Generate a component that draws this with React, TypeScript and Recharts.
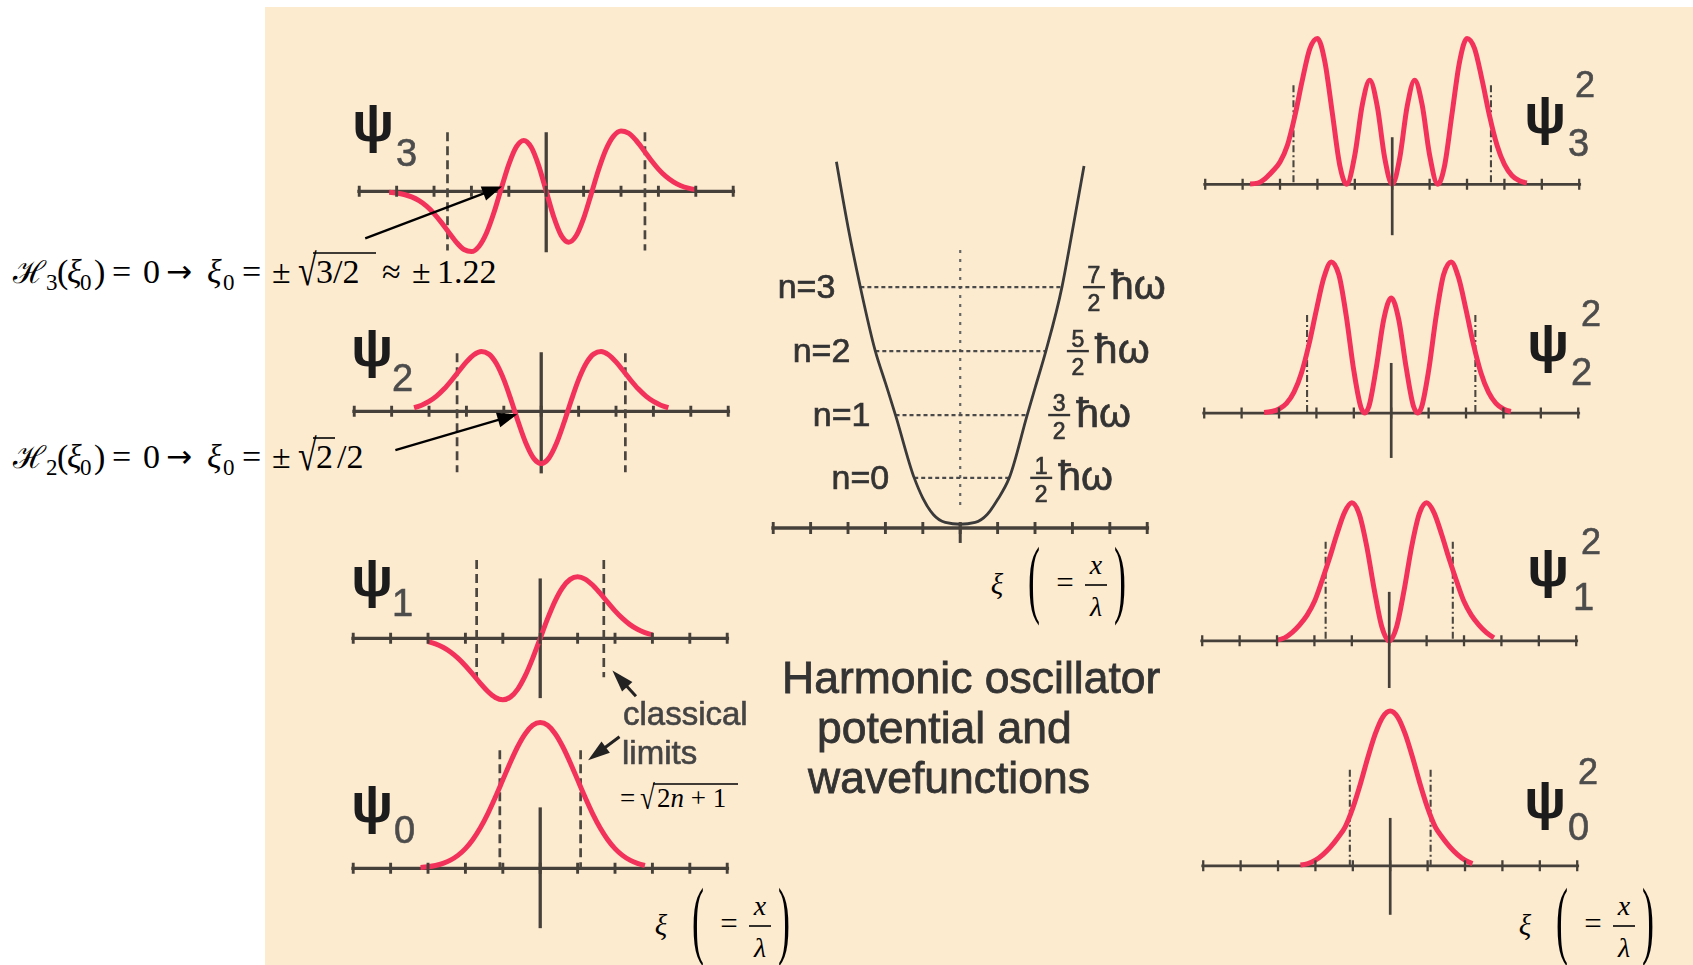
import React from 'react';
import { ComposedChart, Line, Scatter, XAxis, YAxis, ReferenceLine } from 'recharts';

type Pt = [number, number];

// ---------------- data (ξ, value) ----------------
const XI_TICKS = [-5, -4, -3, -2, -1, 0, 1, 2, 3, 4, 5];
const CLASSICAL_LIMITS = [1.08, 1.7, 2.25, 2.64]; // √(2n+1), n = 0..3

const PSI0: Pt[] = [
  [-3.2, 0.023], [-3.0, 0.043], [-2.8, 0.077], [-2.6, 0.133], [-2.4, 0.219], [-2.2, 0.347], [-2.0, 0.528],
  [-1.8, 0.772], [-1.6, 1.084], [-1.4, 1.464], [-1.2, 1.899], [-1.0, 2.365], [-0.8, 2.832], [-0.6, 3.258],
  [-0.4, 3.6], [-0.2, 3.823], [0, 3.9], [0.2, 3.823], [0.4, 3.6], [0.6, 3.258], [0.8, 2.832], [1.0, 2.365],
  [1.2, 1.899], [1.4, 1.464], [1.6, 1.084], [1.8, 0.772], [2.0, 0.528], [2.2, 0.347], [2.4, 0.219],
  [2.6, 0.133], [2.8, 0.077],
];
const PSI1: Pt[] = [
  [-3.0, -0.09], [-2.8, -0.15], [-2.6, -0.24], [-2.4, -0.365], [-2.2, -0.53], [-2.0, -0.734], [-1.8, -0.965],
  [-1.6, -1.205], [-1.4, -1.424], [-1.2, -1.583], [-1.0, -1.644], [-0.8, -1.574], [-0.6, -1.358], [-0.4, -1.001],
  [-0.2, -0.531], [0, 0], [0.2, 0.531], [0.4, 1.001], [0.6, 1.358], [0.8, 1.574], [1.0, 1.644], [1.2, 1.583],
  [1.4, 1.424], [1.6, 1.205], [1.8, 0.965], [2.0, 0.734], [2.2, 0.53], [2.4, 0.365], [2.6, 0.24], [2.8, 0.15],
  [3.0, 0.09],
];
const PSI2: Pt[] = [
  [-3.4, 0.095], [-3.2, 0.163], [-3.0, 0.264], [-2.8, 0.406], [-2.6, 0.594], [-2.4, 0.824], [-2.2, 1.077],
  [-2.0, 1.322], [-1.8, 1.514], [-1.6, 1.599], [-1.4, 1.53], [-1.2, 1.278], [-1.0, 0.847], [-0.8, 0.284],
  [-0.6, -0.327], [-0.4, -0.876], [-0.2, -1.259], [0, -1.396], [0.2, -1.259], [0.4, -0.876], [0.6, -0.327],
  [0.8, 0.284], [1.0, 0.847], [1.2, 1.278], [1.4, 1.53], [1.6, 1.599], [1.8, 1.514], [2.0, 1.322], [2.2, 1.077],
  [2.4, 0.824], [2.6, 0.594], [2.8, 0.406], [3.0, 0.264], [3.2, 0.163], [3.4, 0.095],
];
const PSI3: Pt[] = [
  [-4.2, -0.024], [-4.0, -0.046], [-3.8, -0.086], [-3.6, -0.15], [-3.4, -0.252], [-3.2, -0.398], [-3.0, -0.595],
  [-2.8, -0.837], [-2.6, -1.107], [-2.4, -1.365], [-2.2, -1.555], [-2.0, -1.611], [-1.8, -1.475], [-1.6, -1.122],
  [-1.4, -0.575], [-1.2, 0.083], [-1.0, 0.722], [-0.8, 1.189], [-0.6, 1.36], [-0.4, 1.178], [-0.2, 0.681],
  [0, 0], [0.2, -0.681], [0.4, -1.178], [0.6, -1.36], [0.8, -1.189], [1.0, -0.722], [1.2, -0.083], [1.4, 0.575],
  [1.6, 1.122], [1.8, 1.475], [2.0, 1.611], [2.2, 1.555], [2.4, 1.365], [2.6, 1.107], [2.8, 0.837], [3.0, 0.595],
  [3.2, 0.398], [3.4, 0.252], [3.6, 0.15], [3.8, 0.086], [4.0, 0.046],
];

const PSI0_SQ: Pt[] = [
  [-2.4, 0.02], [-2.2, 0.06], [-2.0, 0.15], [-1.8, 0.3], [-1.6, 0.5], [-1.4, 0.75], [-1.2, 1.05], [-1.0, 1.55],
  [-0.8, 2.183], [-0.6, 2.888], [-0.4, 3.528], [-0.2, 3.978], [0, 4.14], [0.2, 3.978], [0.4, 3.528],
  [0.6, 2.888], [0.8, 2.183], [1.0, 1.55], [1.2, 1.05], [1.4, 0.75], [1.6, 0.5], [1.8, 0.3], [2.0, 0.15],
  [2.2, 0.06],
];
const PSI1_SQ: Pt[] = [
  [-3.0, 0.02], [-2.8, 0.08], [-2.6, 0.22], [-2.4, 0.42], [-2.2, 0.68], [-2.0, 1.05], [-1.8, 1.6], [-1.6, 2.2],
  [-1.4, 2.85], [-1.2, 3.423], [-1.0, 3.69], [-0.8, 3.384], [-0.6, 2.52], [-0.4, 1.367], [-0.2, 0.385], [0, 0],
  [0.2, 0.385], [0.4, 1.367], [0.6, 2.52], [0.8, 3.384], [1.0, 3.69], [1.2, 3.423], [1.4, 2.85], [1.6, 2.2],
  [1.8, 1.6], [2.0, 1.05], [2.2, 0.68], [2.4, 0.42], [2.6, 0.22], [2.8, 0.08],
];
const PSI2_SQ: Pt[] = [
  [-3.4, 0.014], [-3.2, 0.042], [-3.0, 0.11], [-2.8, 0.26], [-2.6, 0.558], [-2.4, 1.073], [-2.2, 1.834],
  [-2.0, 2.764], [-1.8, 3.622], [-1.6, 4.041], [-1.4, 3.699], [-1.2, 2.58], [-1.0, 1.133], [-0.8, 0.127],
  [-0.7, 0], [-0.6, 0.168], [-0.4, 1.214], [-0.2, 2.505], [0, 3.08], [0.2, 2.505], [0.4, 1.214], [0.6, 0.168],
  [0.7, 0], [0.8, 0.127], [1.0, 1.133], [1.2, 2.58], [1.4, 3.699], [1.6, 4.041], [1.8, 3.622], [2.0, 2.764],
  [2.2, 1.834], [2.4, 1.073], [2.6, 0.558], [2.8, 0.26], [3.0, 0.11], [3.2, 0.042],
];
const PSI3_SQ: Pt[] = [
  [-3.8, 0.011], [-3.6, 0.034], [-3.4, 0.15], [-3.2, 0.35], [-3.0, 0.6], [-2.8, 1.053], [-2.6, 1.842],
  [-2.4, 2.803], [-2.2, 3.636], [-2.0, 3.902], [-1.8, 3.273], [-1.6, 1.894], [-1.4, 0.498], [-1.22, 0],
  [-1.0, 0.783], [-0.8, 2.126], [-0.6, 2.781], [-0.4, 2.086], [-0.2, 0.698], [0, 0], [0.2, 0.698], [0.4, 2.086],
  [0.6, 2.781], [0.8, 2.126], [1.0, 0.783], [1.22, 0], [1.4, 0.498], [1.6, 1.894], [1.8, 3.273], [2.0, 3.902],
  [2.2, 3.636], [2.4, 2.803], [2.6, 1.842], [2.8, 1.053], [3.0, 0.532], [3.2, 0.238], [3.4, 0.095], [3.6, 0.034],
];

const POTENTIAL: Pt[] = [
  [-3.31, 9.79], [-3.0, 8.05], [-2.67, 6.44], [-2.27, 4.73], [-2.0, 3.88], [-1.73, 3.02], [-1.23, 1.34],
  [-1.0, 0.8], [-0.72, 0.36], [-0.4, 0.15], [0, 0.1], [0.4, 0.15], [0.72, 0.36], [1.0, 0.76], [1.31, 1.34],
  [1.79, 3.02], [2.0, 3.74], [2.29, 4.73], [2.72, 6.44], [3.0, 7.95], [3.31, 9.68],
];
const LEVEL_ENERGY = [1.34, 3.02, 4.73, 6.44];
const LEVEL_LEFT = [-1.23, -1.73, -2.27, -2.67];
const LEVEL_RIGHT = [1.31, 1.79, 2.29, 2.72];
const LEVEL_NAMES = ['n=0', 'n=1', 'n=2', 'n=3'];
const LEVEL_NUMERATORS = ['1', '3', '5', '7'];

// annotation arrows, in each panel's (ξ, value) coordinates: [tail, head]
const ARROW_H3: Pt[] = [[-4.84, -1.26], [-1.18, 0.13]];
const ARROW_H2: Pt[] = [[-3.9, -1.04], [-0.64, -0.08]];
const ARROW_LIMIT1: Pt[] = [[2.56, -1.55], [1.93, -0.86]];
const ARROW_LIMIT0: Pt[] = [[2.12, 3.52], [1.28, 2.89]];

// ---------------- style / layout ----------------
const W = 1693;
const H = 965;
const S = 37.4;
const X_MIN = -5.3;
const X_MAX = 5.3;
const POT_X_MAX = 7.2;
const BG = '#FDEBD0';
const RED = '#F3325B';
const AXIS = '#45413a';
const DASH = '#4b4740';
const GRAYTXT = '#333333';
const SANS = "'Liberation Sans', Arial, Helvetica, sans-serif";
const SERIF = "'Liberation Serif', 'Times New Roman', 'DejaVu Serif', serif";
const M0 = { top: 0, right: 0, bottom: 0, left: 0 };

const toXY = (pts: Pt[]) => pts.map(([x, y]) => ({ x, y }));
const TICK_DATA = XI_TICKS.map((t) => ({ x: t, y: 0 }));

const tickShape = (w: number, h: number) => (p: any) => {
  if (p == null || p.cx == null || p.cy == null) return <g />;
  return <line x1={p.cx} x2={p.cx} y1={p.cy - h} y2={p.cy + h} stroke={AXIS} strokeWidth={w} />;
};

const arrowShape = (color: string, w: number, hl: number, hw: number) => (p: any) => {
  const x1 = Number(p.x1), y1 = Number(p.y1), x2 = Number(p.x2), y2 = Number(p.y2);
  if (![x1, y1, x2, y2].every((v) => isFinite(v))) return <g />;
  const dx = x2 - x1, dy = y2 - y1;
  const len = Math.hypot(dx, dy) || 1;
  const ux = dx / len, uy = dy / len;
  const bx = x2 - ux * hl, by = y2 - uy * hl;
  const px = -uy, py = ux;
  return (
    <g>
      <line x1={x1} y1={y1} x2={bx + ux * 2} y2={by + uy * 2} stroke={color} strokeWidth={w} />
      <polygon points={`${x2},${y2} ${bx + px * hw},${by + py * hw} ${bx - px * hw},${by - py * hw}`} fill={color} />
    </g>
  );
};

const TXT_BOLDEN = { stroke: GRAYTXT, strokeWidth: 0.7 };

const levelShape = (i: number) => (p: any) => {
  const x1 = Number(p.x1), x2 = Number(p.x2), y = Number(p.y1);
  if (![x1, x2, y].every((v) => isFinite(v))) return <g />;
  const l = Math.min(x1, x2), r = Math.max(x1, x2);
  return (
    <g>
      <line x1={l} x2={r} y1={y} y2={y} stroke="#4a4a4a" strokeWidth={2.2} strokeDasharray="4 3" />
      <text x={l - 25} y={y + 11} textAnchor="end" fontSize={34} fill={GRAYTXT} fontFamily={SANS} {...TXT_BOLDEN}>{LEVEL_NAMES[i]}</text>
      <text x={r + 32} y={y - 4} textAnchor="middle" fontSize={23} fill={GRAYTXT} fontFamily={SANS} {...TXT_BOLDEN}>{LEVEL_NUMERATORS[i]}</text>
      <line x1={r + 21} x2={r + 43} y1={y} y2={y} stroke={GRAYTXT} strokeWidth={2.4} />
      <text x={r + 32} y={y + 24} textAnchor="middle" fontSize={23} fill={GRAYTXT} fontFamily={SANS} {...TXT_BOLDEN}>2</text>
      <text x={r + 49} y={y + 12} fontSize={41} fill={GRAYTXT} fontFamily={SANS} {...TXT_BOLDEN}>ħω</text>
    </g>
  );
};

interface PanelCfg {
  cx: number; ay: number; lo: number; hi: number;
  curve: Pt[]; vAxis: [number, number]; dash: [number, number]; limit: number;
  right?: boolean; blurArrows?: Pt[][]; crispArrows?: Pt[][];
}

const LEFT_PANELS: PanelCfg[] = [
  { cx: 546, ay: 191, lo: -1.8, hi: 1.8, curve: PSI3, vAxis: [1.58, -1.63], dash: [1.58, -1.58], limit: CLASSICAL_LIMITS[3], crispArrows: [ARROW_H3] },
  { cx: 541, ay: 411, lo: -1.8, hi: 1.8, curve: PSI2, vAxis: [1.58, -1.66], dash: [1.55, -1.63], limit: CLASSICAL_LIMITS[2], crispArrows: [ARROW_H2] },
  { cx: 540, ay: 638, lo: -1.8, hi: 2.2, curve: PSI1, vAxis: [1.6, -1.6], dash: [2.09, -1.04], limit: CLASSICAL_LIMITS[1], blurArrows: [ARROW_LIMIT1] },
  { cx: 540, ay: 868, lo: -1.8, hi: 4.1, curve: PSI0, vAxis: [1.63, -1.6], dash: [3.16, 0], limit: CLASSICAL_LIMITS[0], blurArrows: [ARROW_LIMIT0] },
];
const RIGHT_PANELS: PanelCfg[] = [
  { cx: 1392, ay: 184, lo: -1.5, hi: 4.1, curve: PSI3_SQ, vAxis: [1.26, -1.36], dash: [2.65, 0], limit: CLASSICAL_LIMITS[3], right: true },
  { cx: 1391, ay: 413, lo: -1.4, hi: 4.2, curve: PSI2_SQ, vAxis: [1.34, -1.2], dash: [2.62, 0], limit: CLASSICAL_LIMITS[2], right: true },
  { cx: 1389, ay: 641, lo: -1.4, hi: 3.9, curve: PSI1_SQ, vAxis: [1.31, -1.26], dash: [2.65, 0], limit: CLASSICAL_LIMITS[1], right: true },
  { cx: 1390, ay: 866, lo: -1.4, hi: 4.3, curve: PSI0_SQ, vAxis: [1.28, -1.31], dash: [2.57, 0], limit: CLASSICAL_LIMITS[0], right: true },
];

function box(cx: number, ay: number, lo: number, hi: number, xMin = X_MIN, xMax = X_MAX) {
  return { left: cx + xMin * S, top: ay - hi * S, width: (xMax - xMin) * S, height: (hi - lo) * S };
}

function Panel({ cfg }: { cfg: PanelCfg }) {
  const b = box(cfg.cx, cfg.ay, cfg.lo, cfg.hi);
  const thin = !!cfg.right;
  const axisW = thin ? 2.7 : 3.3;
  const dashProps = thin ? { strokeDasharray: '7 3 2 3', strokeWidth: 2.1 } : { strokeDasharray: '9 5', strokeWidth: 2.7 };
  return (
    <>
      <div style={{ position: 'absolute', left: b.left, top: b.top, width: b.width, height: b.height, filter: 'blur(0.6px)' }}>
        <ComposedChart width={b.width} height={b.height} margin={M0}>
          <XAxis type="number" dataKey="x" domain={[X_MIN, X_MAX]} hide allowDataOverflow />
          <YAxis type="number" dataKey="y" domain={[cfg.lo, cfg.hi]} hide allowDataOverflow />
          <ReferenceLine segment={[{ x: -5.05, y: 0 }, { x: 5.05, y: 0 }]} stroke={AXIS} strokeWidth={axisW} ifOverflow="visible" />
          <ReferenceLine segment={[{ x: 0, y: cfg.vAxis[0] }, { x: 0, y: cfg.vAxis[1] }]} stroke={AXIS} strokeWidth={axisW} ifOverflow="visible" />
          <ReferenceLine segment={[{ x: -cfg.limit, y: cfg.dash[0] }, { x: -cfg.limit, y: cfg.dash[1] }]} stroke={DASH} {...dashProps} ifOverflow="visible" />
          <ReferenceLine segment={[{ x: cfg.limit, y: cfg.dash[0] }, { x: cfg.limit, y: cfg.dash[1] }]} stroke={DASH} {...dashProps} ifOverflow="visible" />
          <Scatter data={TICK_DATA} shape={tickShape(thin ? 2.3 : 2.9, 5.5)} isAnimationActive={false} />
          <Line data={toXY(cfg.curve)} dataKey="y" type="monotone" stroke={RED} strokeWidth={5} dot={false} isAnimationActive={false} />
          {(cfg.blurArrows || []).map((a, i) => (
            <ReferenceLine key={'ba' + i} segment={[{ x: a[0][0], y: a[0][1] }, { x: a[1][0], y: a[1][1] }]} ifOverflow="visible" shape={arrowShape('#222', 3, 22, 7)} zIndex={1500} />
          ))}
        </ComposedChart>
      </div>
      {cfg.crispArrows ? (
        <div style={{ position: 'absolute', left: b.left, top: b.top, width: b.width, height: b.height }}>
          <ComposedChart width={b.width} height={b.height} margin={M0}>
            <XAxis type="number" dataKey="x" domain={[X_MIN, X_MAX]} hide allowDataOverflow />
            <YAxis type="number" dataKey="y" domain={[cfg.lo, cfg.hi]} hide allowDataOverflow />
            {cfg.crispArrows.map((a, i) => (
              <ReferenceLine key={'ca' + i} segment={[{ x: a[0][0], y: a[0][1] }, { x: a[1][0], y: a[1][1] }]} ifOverflow="visible" shape={arrowShape('#000', 2.3, 20, 7.5)} />
            ))}
          </ComposedChart>
        </div>
      ) : null}
    </>
  );
}

function PotentialPanel() {
  const lo = -0.6, hi = 10.0;
  const b = box(960, 528, lo, hi, X_MIN, POT_X_MAX);
  return (
    <div style={{ position: 'absolute', left: b.left, top: b.top, width: b.width, height: b.height, filter: 'blur(0.6px)' }}>
      <ComposedChart width={b.width} height={b.height} margin={M0}>
        <XAxis type="number" dataKey="x" domain={[X_MIN, POT_X_MAX]} hide allowDataOverflow />
        <YAxis type="number" dataKey="y" domain={[lo, hi]} hide allowDataOverflow />
        <ReferenceLine segment={[{ x: -5.05, y: 0 }, { x: 5.05, y: 0 }]} stroke={AXIS} strokeWidth={3.6} ifOverflow="visible" />
        <ReferenceLine segment={[{ x: 0, y: 0.15 }, { x: 0, y: -0.4 }]} stroke={AXIS} strokeWidth={3} ifOverflow="visible" />
        <ReferenceLine segment={[{ x: 0, y: 7.43 }, { x: 0, y: 0.48 }]} stroke="#666" strokeWidth={2.2} strokeDasharray="3 6" ifOverflow="visible" />
        {LEVEL_ENERGY.map((e, i) => (
          <ReferenceLine key={'lv' + i} segment={[{ x: LEVEL_LEFT[i], y: e }, { x: LEVEL_RIGHT[i], y: e }]} ifOverflow="visible" shape={levelShape(i)} />
        ))}
        <Scatter data={TICK_DATA} shape={tickShape(2.9, 6)} isAnimationActive={false} />
        <Line data={toXY(POTENTIAL)} dataKey="y" type="monotone" stroke="#3a3a3a" strokeWidth={2.8} dot={false} isAnimationActive={false} />
      </ComposedChart>
    </div>
  );
}

const PSI_LABELS = [
  { x: 352, y: 141, sub: '3', sx: 396, sy: 166 },
  { x: 351, y: 366, sub: '2', sx: 392, sy: 391 },
  { x: 351, y: 596, sub: '1', sx: 392, sy: 616 },
  { x: 351, y: 822, sub: '0', sx: 394, sy: 843 },
  { x: 1524, y: 133, sub: '3', sx: 1568, sy: 156, px: 1575, py: 97 },
  { x: 1527, y: 361, sub: '2', sx: 1571, sy: 385, px: 1581, py: 326 },
  { x: 1527, y: 586, sub: '1', sx: 1573, sy: 610, px: 1581, py: 554 },
  { x: 1524, y: 818, sub: '0', sx: 1568, sy: 840, px: 1578, py: 784 },
];

function XiLabel({ x, y }: { x: number; y: number }) {
  const paren = (cx: number, ch: string) => (
    <text transform={`translate(${cx},${y + 22}) scale(1,2.4)`} fontSize={36} textAnchor="middle" fontFamily={SERIF} fill="#000">{ch}</text>
  );
  return (
    <g>
      <text x={x} y={y + 9} fontSize={29} fontStyle="italic" textAnchor="middle" fontFamily={SERIF} fill="#000">ξ</text>
      {paren(x + 37, '(')}
      <text x={x + 68} y={y + 8} fontSize={31} textAnchor="middle" fontFamily={SERIF} fill="#000">=</text>
      <text x={x + 99} y={y - 11} fontSize={28} fontStyle="italic" textAnchor="middle" fontFamily={SERIF} fill="#000">x</text>
      <line x1={x + 88} x2={x + 110} y1={y} y2={y} stroke="#000" strokeWidth={1.6} />
      <text x={x + 99} y={y + 31} fontSize={28} fontStyle="italic" textAnchor="middle" fontFamily={SERIF} fill="#000">λ</text>
      {paren(x + 123, ')')}
    </g>
  );
}

function MathLine({ y, sub, rad, radEnd, tail }: { y: number; sub: string; rad: string; radEnd: number; tail: string }) {
  const f = 34, sf = 23;
  const t = (x: number, s: string, it = false, size = f, dy = 0) => (
    <text x={x} y={y + dy} fontSize={size} fontStyle={it ? 'italic' : 'normal'} fontFamily={SERIF} fill="#000">{s}</text>
  );
  return (
    <g>
      <text x={13} y={y} fontSize={31} fontFamily="'DejaVu Serif', 'Liberation Serif', serif" fill="#000">ℋ</text>
      {t(46, sub, false, sf, 7)}
      {t(57, '(')}
      {t(67, 'ξ', true)}
      {t(80, '0', false, sf, 7)}
      {t(94, ')')}
      {t(112, '=')}
      {t(143, '0')}
      <text x={166} y={y - 1} fontSize={31} fontFamily="'DejaVu Sans', sans-serif" fill="#000">→</text>
      {t(207, 'ξ', true)}
      {t(223, '0', false, sf, 7)}
      {t(242, '=')}
      {t(272, '±')}
      <text transform={`translate(298,${y + 2}) scale(1,1.3)`} fontSize={f} fontFamily={SERIF} fill="#000">√</text>
      <line x1={313} x2={radEnd} y1={y - 30} y2={y - 30} stroke="#000" strokeWidth={1.6} />
      {t(316, rad)}
      {tail ? t(radEnd + 2, tail) : null}
    </g>
  );
}

export default function App() {
  return (
    <div style={{ position: 'relative', width: W, height: H, overflow: 'hidden', background: '#fff' }}>
      <style>{'body{margin:0;}'}</style>
      <div style={{ position: 'absolute', left: 265, top: 7, right: 0, bottom: 0, background: BG }} />

      {LEFT_PANELS.map((c, i) => <Panel key={'l' + i} cfg={c} />)}
      {RIGHT_PANELS.map((c, i) => <Panel key={'r' + i} cfg={c} />)}
      <PotentialPanel />

      {/* labels belonging to the original figure */}
      <svg width={W} height={H} style={{ position: 'absolute', left: 0, top: 0, filter: 'blur(0.55px)', pointerEvents: 'none' }}>
        {PSI_LABELS.map((l, i) => (
          <g key={'psi' + i}>
            <text x={l.x} y={l.y} fontSize={56} fontWeight={700} fill="#1c1c1c" fontFamily={SANS}>ψ</text>
            <text x={l.sx} y={l.sy} fontSize={38} fill="#4c4c4c" stroke="#4c4c4c" strokeWidth={0.6} fontFamily={SANS}>{l.sub}</text>
            {l.px ? <text x={l.px} y={l.py} fontSize={36} fill="#4c4c4c" stroke="#4c4c4c" strokeWidth={0.6} fontFamily={SANS}>2</text> : null}
          </g>
        ))}
        <g fill={GRAYTXT} fontFamily={SANS} fontSize={44.5} stroke={GRAYTXT} strokeWidth={0.8}>
          <text x={782} y={693}>Harmonic oscillator</text>
          <text x={817} y={743}>potential and</text>
          <text x={808} y={793}>wavefunctions</text>
        </g>
        <g fill="#444" fontFamily={SANS} fontSize={33} stroke="#444" strokeWidth={0.6}>
          <text x={623} y={725}>classical</text>
          <text x={622} y={764}>limits</text>
        </g>
      </svg>

      {/* added mathematical annotations */}
      <svg width={W} height={H} style={{ position: 'absolute', left: 0, top: 0, pointerEvents: 'none' }}>
        <MathLine y={283} sub="3" rad="3/2" radEnd={376} tail="" />
        <text x={382} y={283} fontSize={34} fontFamily={SERIF} fill="#000">≈</text>
        <text x={412} y={283} fontSize={34} fontFamily={SERIF} fill="#000">±</text>
        <text x={437} y={283} fontSize={34} fontFamily={SERIF} fill="#000">1.22</text>
        <MathLine y={468} sub="2" rad="2" radEnd={335} tail="/2" />

        <text x={620} y={807} fontSize={27} fontFamily={SERIF} fill="#000">=</text>
        <text transform="translate(640,809) scale(1,1.25)" fontSize={27} fontFamily={SERIF} fill="#000">√</text>
        <line x1={653} x2={738} y1={784} y2={784} stroke="#000" strokeWidth={1.4} />
        <text x={657} y={807} fontSize={27} fontFamily={SERIF} fill="#000">2<tspan fontStyle="italic">n</tspan> + 1</text>

        <XiLabel x={997} y={585} />
        <XiLabel x={661} y={926} />
        <XiLabel x={1525} y={926} />
      </svg>
    </div>
  );
}
